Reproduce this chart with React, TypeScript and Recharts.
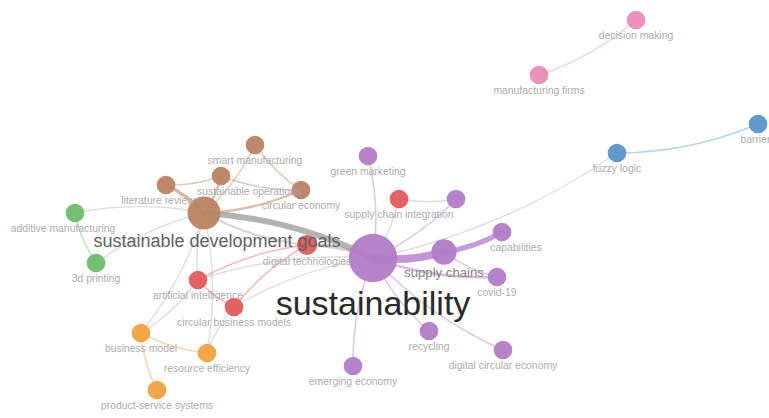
import { ReferenceLine, Scatter, ScatterChart, XAxis, YAxis } from 'recharts';

const WIDTH = 769;
const HEIGHT = 418;

// keyword map: one entry per term, clusters index into CLUSTER_COLORS
const labels = [
  'sustainability',
  'sustainable development goals',
  'supply chains',
  'digital technologies',
  'capabilities',
  'covid-19',
  'innovation',
  'green marketing',
  'recycling',
  'digital circular economy',
  'emerging economy',
  'supply chain integration',
  'artificial intelligence',
  'circular business models',
  'smart manufacturing',
  'sustainable operations',
  'literature review',
  'circular economy',
  'additive manufacturing',
  '3d printing',
  'business model',
  'resource efficiency',
  'product-service systems',
  'fuzzy logic',
  'barriers',
  'decision making',
  'manufacturing firms',
];
const layoutX = [373, 204, 444, 307, 502, 497, 456, 368, 429, 503, 353, 399, 198, 234, 255, 221, 166, 301, 75, 96, 141, 207, 157, 617, 758, 636, 539];
const layoutY = [258, 213, 252, 245, 232, 277, 199, 156, 331, 350, 366, 199, 280, 307, 145, 176, 185, 190, 213, 263, 333, 353, 390, 153, 124, 20, 75];
const occurrences = [60, 20, 8, 3, 2, 2, 2, 2, 2, 2, 2, 2, 2, 2, 2, 2, 2, 2, 2, 2, 2, 2, 2, 2, 2, 2, 2];
const clusters = [0, 1, 0, 2, 0, 0, 0, 0, 0, 0, 0, 2, 2, 2, 1, 1, 1, 1, 3, 3, 4, 4, 4, 5, 5, 6, 6];

// co-occurrence links
const edgeFrom = [0, 2, 0, 1, 0, 1, 1, 1, 1, 15, 14, 16, 1, 1, 18, 0, 23, 26, 0, 0, 0, 11, 0, 2, 0, 0, 0, 0, 0, 1, 12, 3, 20, 20, 20, 21, 13, 20, 3];
const edgeTo = [2, 4, 1, 3, 3, 16, 15, 14, 17, 17, 17, 15, 18, 19, 19, 23, 24, 25, 7, 6, 11, 6, 5, 5, 8, 9, 10, 13, 12, 12, 13, 12, 21, 22, 1, 1, 21, 12, 13];
const edgeStrength = [8, 5, 6, 2, 3, 3, 2, 1, 2, 1, 1, 1, 1, 1, 1, 1, 1, 1, 1, 1, 1, 1, 2, 1, 1, 1, 1, 1, 1, 1, 1, 1, 1, 1, 1, 1, 1, 1, 1];

const CLUSTER_COLORS = ['#b27cc8', '#bb8363', '#e15b5b', '#6cbd6c', '#f0a23f', '#5b95cb', '#e78cb8'];
const FONT = '"Liberation Sans", Arial, sans-serif';

// labels that would collide are hidden or pushed sideways
const HIDDEN_LABELS = new Set(['innovation']);
const LABEL_SHIFT: Record<string, number> = {
  'sustainable development goals': 13,
  'sustainable operations': 28,
  'literature review': -8,
  'additive manufacturing': -12,
  capabilities: 14,
};

const nodes = labels.map((label, i) => ({
  x: layoutX[i],
  y: layoutY[i],
  label,
  occ: occurrences[i],
  cluster: clusters[i],
}));

const radius = (occ: number) => 6 + 2.35 * Math.sqrt(occ);
const fontSize = (occ: number) => (occ >= 6 ? 10 + 0.4 * occ : 10.4);
const labelColor = (occ: number) =>
  occ >= 40 ? '#2a2a2a' : occ >= 15 ? '#616161' : occ >= 6 ? '#858585' : '#adadad';

function NodeShape(props: any) {
  const { cx, cy, payload } = props;
  return (
    <circle cx={cx} cy={cy} r={radius(payload.occ)} fill={CLUSTER_COLORS[payload.cluster]} fillOpacity={0.95} />
  );
}

function LabelShape(props: any) {
  const { cx, cy, payload } = props;
  if (HIDDEN_LABELS.has(payload.label)) return <g />;
  const f = fontSize(payload.occ);
  return (
    <text
      x={cx + (LABEL_SHIFT[payload.label] ?? 0)}
      y={cy + radius(payload.occ) + f * 0.95}
      textAnchor="middle"
      fontFamily={FONT}
      fontSize={f}
      fill={labelColor(payload.occ)}
    >
      {payload.label}
    </text>
  );
}

// links bend slightly clockwise, like the usual map layout
function edgeShape(i: number) {
  const a = edgeFrom[i];
  const b = edgeTo[i];
  const s = edgeStrength[i];
  const same = clusters[a] === clusters[b];
  const color = same ? CLUSTER_COLORS[clusters[a]] : '#8f8f8f';
  const opacity = Math.min(0.8, (same ? 0.35 : 0.2) + 0.08 * s);
  return (props: any) => {
    const { x1, y1, x2, y2 } = props;
    const dx = x2 - x1;
    const dy = y2 - y1;
    const qx = (x1 + x2) / 2 - dy * 0.1;
    const qy = (y1 + y2) / 2 + dx * 0.1;
    return (
      <path
        d={`M${x1},${y1} Q${qx},${qy} ${x2},${y2}`}
        fill="none"
        stroke={color}
        strokeOpacity={opacity}
        strokeWidth={0.6 + 0.9 * s}
        strokeLinecap="round"
      />
    );
  };
}

export default function App() {
  return (
    <div style={{ position: 'absolute', left: 0, top: 0, background: '#fff' }}>
      <ScatterChart width={WIDTH} height={HEIGHT} margin={{ top: 0, right: 0, bottom: 0, left: 0 }}>
        <XAxis type="number" dataKey="x" domain={[0, WIDTH]} hide />
        <YAxis type="number" dataKey="y" domain={[0, HEIGHT]} reversed hide />
        {edgeFrom.map((a, i) => (
          <ReferenceLine
            key={`e${i}`}
            ifOverflow="visible"
            segment={[
              { x: layoutX[a], y: layoutY[a] },
              { x: layoutX[edgeTo[i]], y: layoutY[edgeTo[i]] },
            ]}
            shape={edgeShape(i)}
          />
        ))}
        <Scatter data={nodes} shape={NodeShape} isAnimationActive={false} />
        <Scatter data={nodes} shape={LabelShape} isAnimationActive={false} />
      </ScatterChart>
    </div>
  );
}
